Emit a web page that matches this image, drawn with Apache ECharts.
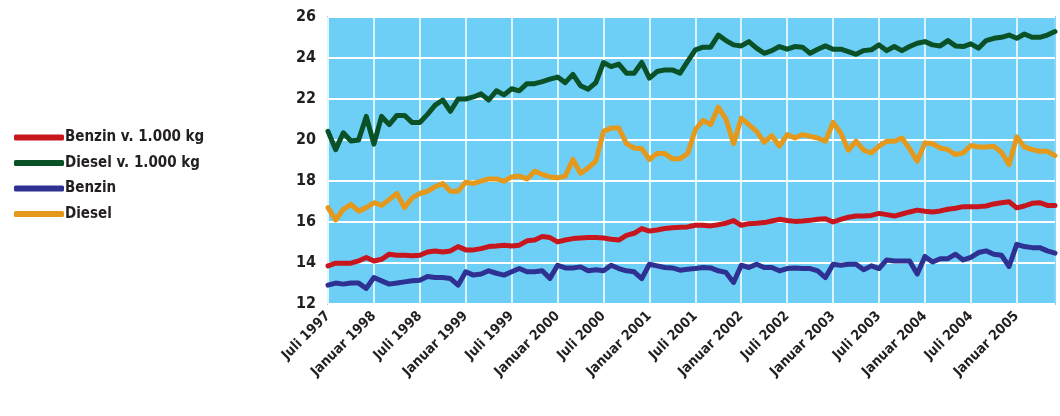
<!DOCTYPE html>
<html>
<head>
<meta charset="utf-8">
<script src="https://cdn.jsdelivr.net/npm/echarts@6/dist/echarts.min.js"></script>
<style>
  html, body { margin: 0; padding: 0; background: #fff; }
  #chart { width: 1060px; height: 416px; }
</style>
</head>
<body>
<div id="chart"></div>
<script>
// Monatswerte Juli 1997 bis Juni 2005
const monthNames = ["Januar", "Februar", "März", "April", "Mai", "Juni",
  "Juli", "August", "September", "Oktober", "November", "Dezember"]

const benzinVk = [
  13.86, 13.99, 13.99, 13.99, 14.1, 14.27, 14.1, 14.18, 14.43, 14.38, 14.38, 14.35, 14.38, 14.54, 14.59,
  14.54, 14.59, 14.8, 14.64, 14.64, 14.7, 14.8, 14.83, 14.87, 14.83, 14.87, 15.08, 15.12, 15.29,
  15.24, 15.03, 15.12, 15.19, 15.22, 15.24, 15.24, 15.22, 15.16, 15.12, 15.35, 15.45, 15.68, 15.56,
  15.61, 15.68, 15.72, 15.74, 15.76, 15.84, 15.84, 15.81, 15.87, 15.94, 16.07, 15.84, 15.92, 15.94,
  15.97, 16.05, 16.13, 16.07, 16.03,
  16.05, 16.08, 16.13, 16.16, 16.0, 16.13, 16.23, 16.29, 16.29, 16.32, 16.42, 16.36, 16.29, 16.39,
  16.49, 16.58, 16.52, 16.49, 16.54, 16.62, 16.67, 16.75, 16.75, 16.75, 16.78, 16.88, 16.94, 16.99,
  16.69, 16.78, 16.91, 16.94, 16.81, 16.81
]

const dieselVk = [
  20.42, 19.53, 20.35, 19.95, 20.0, 21.15, 19.8, 21.15, 20.75, 21.2, 21.2, 20.85, 20.85, 21.25, 21.7,
  21.95, 21.4, 22.0, 22.0, 22.1, 22.25, 21.95, 22.4, 22.2, 22.5, 22.4, 22.75, 22.75, 22.85, 22.97,
  23.07, 22.8, 23.2, 22.65, 22.48, 22.8, 23.78, 23.58, 23.7, 23.26, 23.26, 23.78, 23.02, 23.34, 23.42,
  23.42, 23.26, 23.83, 24.4, 24.53, 24.53, 25.12, 24.85, 24.64, 24.59, 24.8, 24.48, 24.23, 24.36,
  24.56, 24.43, 24.56,
  24.53, 24.23, 24.43, 24.59, 24.43, 24.43, 24.31, 24.18, 24.36, 24.4, 24.64, 24.36, 24.56, 24.36,
  24.56, 24.72, 24.8, 24.64, 24.59, 24.85, 24.59, 24.56, 24.69, 24.48, 24.85, 24.96, 25.01, 25.12,
  24.96, 25.17, 25.01, 25.01, 25.12, 25.29
]

const benzin = [
  12.92, 13.02, 12.97, 13.02, 13.02, 12.76, 13.29, 13.13, 12.97, 13.02, 13.08, 13.13, 13.16, 13.34,
  13.29, 13.29, 13.24, 12.92, 13.57, 13.41, 13.46, 13.62, 13.5, 13.41, 13.57, 13.73, 13.57, 13.57,
  13.62, 13.25,
  13.89, 13.76, 13.76, 13.81, 13.62, 13.67, 13.62, 13.89, 13.73, 13.62, 13.57, 13.24, 13.94, 13.86,
  13.78, 13.76, 13.65, 13.7, 13.73, 13.78, 13.76, 13.62, 13.54, 13.05, 13.89, 13.78, 13.94, 13.78,
  13.78, 13.62, 13.73, 13.76,
  13.73, 13.73, 13.62, 13.29, 13.94, 13.89, 13.94, 13.94, 13.67, 13.86, 13.73, 14.15, 14.1, 14.1,
  14.1, 13.46, 14.32, 14.05, 14.21, 14.21, 14.43, 14.15, 14.27, 14.51, 14.59, 14.43, 14.38, 13.83,
  14.91, 14.8, 14.75, 14.75, 14.59, 14.48
]

const diesel = [
  16.7, 16.1, 16.62, 16.86, 16.53, 16.7, 16.94, 16.81, 17.1, 17.39, 16.7, 17.18, 17.39, 17.5, 17.72,
  17.88, 17.5, 17.5, 17.94, 17.88, 17.99, 18.1, 18.1, 17.99, 18.2, 18.24, 18.1, 18.48, 18.32, 18.2,
  18.16, 18.24, 19.05, 18.37, 18.64, 18.97, 20.42, 20.58, 20.58, 19.82, 19.61, 19.57, 19.05, 19.34,
  19.34, 19.08, 19.08, 19.34, 20.5, 20.96, 20.75, 21.6, 21.02, 19.82, 21.07, 20.75, 20.42, 19.89,
  20.21, 19.7, 20.26, 20.1,
  20.26, 20.18, 20.1, 19.94, 20.86, 20.34, 19.5, 19.94, 19.5, 19.37, 19.7, 19.94, 19.94, 20.1,
  19.57, 18.97, 19.86, 19.82, 19.61, 19.53, 19.29, 19.37, 19.73, 19.66, 19.66, 19.7, 19.4, 18.8,
  20.15, 19.66, 19.53, 19.45, 19.45, 19.24
]

// Kategorien: Monat + Jahr, ab Juli 1997
let months = []
for (let i = 0; i < benzin.length; i++) {
  let m = (6 + i) % 12
  let y = 1997 + Math.floor((6 + i) / 12)
  months.push(monthNames[m] + " " + y)
}

const textColor = "#231f20"
const fontFam = "'DejaVu Sans Condensed', 'Open Sans', sans-serif"

let myChart = echarts.init(document.getElementById("chart"))

function line(name, values, color) {
  return {
    name: name,
    type: "line",
    data: values,
    symbol: "none",
    lineStyle: { color: color, width: 5, join: "round", cap: "round" },
    itemStyle: { color: color },
  }
}

myChart.setOption({
  animation: false,
  legend: {
    orient: "vertical",
    left: 9,
    top: 125,
    icon: "roundRect",
    itemWidth: 50,
    itemHeight: 6,
    itemGap: 10.5,
    textStyle: {
      color: textColor,
      fontSize: 15,
      fontWeight: "bold",
      fontFamily: fontFam,
      padding: [0, 0, 0, -4],
    },
    data: ["Benzin v. 1.000 kg", "Diesel v. 1.000 kg", "Benzin", "Diesel"],
  },
  grid: {
    left: 328,
    right: 5,
    top: 17,
    bottom: 112,
    show: true,
    backgroundColor: "#6dcff6",
    borderColor: "#86d7f7",
    borderWidth: 2,
  },
  xAxis: {
    type: "category",
    data: months,
    boundaryGap: false,
    axisLine: { show: false },
    axisTick: { show: false },
    axisLabel: {
      interval: 5,
      rotate: 45,
      margin: 10,
      color: textColor,
      fontSize: 14,
      fontWeight: "bold",
      fontFamily: fontFam,
    },
    splitLine: {
      show: true,
      interval: 5,
      lineStyle: { color: "#ffffff", width: 1.5 },
    },
  },
  yAxis: {
    type: "value",
    min: 12,
    max: 26,
    interval: 2,
    axisLine: { show: false },
    axisTick: { show: false },
    axisLabel: {
      margin: 12,
      color: textColor,
      fontSize: 16,
      fontWeight: "bold",
      fontFamily: fontFam,
    },
    splitLine: { lineStyle: { color: "#ffffff", width: 2 } },
  },
  series: [
    line("Benzin v. 1.000 kg", benzinVk, "#c8161e"),
    line("Diesel v. 1.000 kg", dieselVk, "#0a5127"),
    line("Benzin", benzin, "#2e3192"),
    line("Diesel", diesel, "#e4991c"),
  ],
})
</script>
</body>
</html>
